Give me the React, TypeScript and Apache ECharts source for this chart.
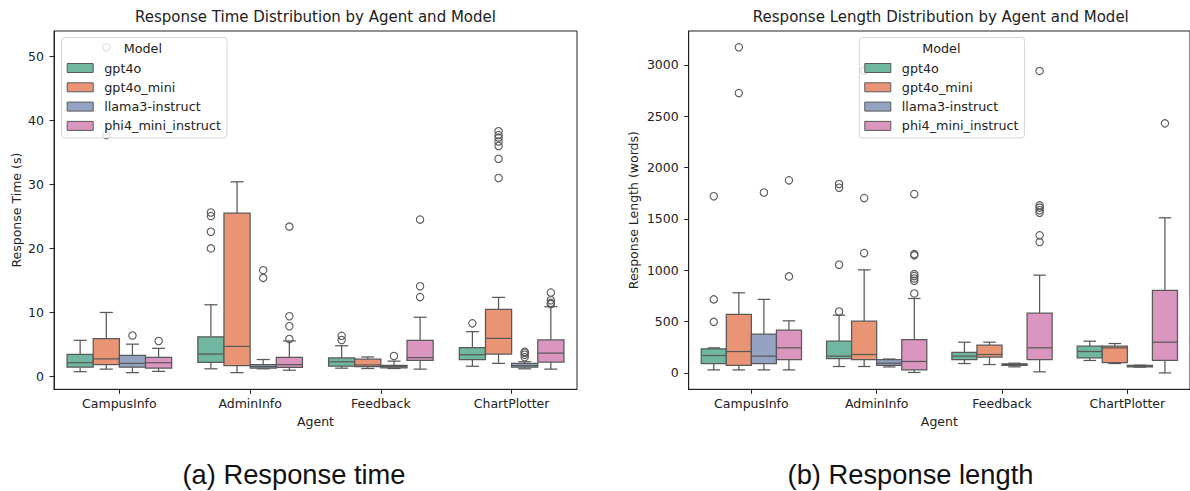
import React, { useEffect, useRef } from 'react';
import * as echarts from 'echarts';

const FONT = 'DejaVu Sans';

const agents = ['CampusInfo', 'AdminInfo', 'Feedback', 'ChartPlotter'];
const models = ['gpt4o', 'gpt4o_mini', 'llama3-instruct', 'phi4_mini_instruct'];
const modelColors = ['#71b6a1', '#e99575', '#95a3c3', '#db96c0'];

// Response time (s): [lower whisker, q1, median, q3, upper whisker] per agent
const timeGpt4o = [[0.75, 1.45, 2.15, 3.45, 5.65], [1.2, 2.2, 3.5, 6.2, 11.2], [1.3, 1.6, 2.3, 2.9, 4.8], [1.6, 2.65, 3.4, 4.5, 7.0]];
const timeGpt4oMini = [[1.15, 1.85, 2.75, 5.9, 10.0], [0.6, 1.7, 4.7, 25.5, 30.4], [1.25, 1.55, 1.8, 2.7, 3.05], [2.05, 3.5, 5.95, 10.5, 12.35]];
const timeLlama3 = [[0.6, 1.45, 2.05, 3.3, 5.05], [1.2, 1.3, 1.55, 1.85, 2.65], [1.25, 1.35, 1.55, 1.75, 2.4], [1.2, 1.45, 1.7, 2.05, 2.3]];
const timePhi4 = [[0.8, 1.3, 2.15, 3.0, 4.4], [0.98, 1.42, 1.85, 3.0, 5.55], [1.15, 2.5, 2.95, 5.65, 9.25], [1.15, 2.25, 3.65, 5.7, 10.9]];

const timeOutGpt4o = [[], [20.0, 22.6, 25.05, 25.6], [5.7, 6.35], [8.3]];
const timeOutGpt4oMini = [[37.7, 51.4], [], [], [31.0, 34.0, 36.0, 36.7, 37.3, 37.7, 38.3]];
const timeOutLlama3 = [[6.4], [15.4, 16.6], [3.2], [3.0, 3.4, 3.7, 3.85]];
const timeOutPhi4 = [[5.55], [5.85, 7.85, 9.4, 23.4], [12.4, 14.1, 24.5], [11.3, 11.5, 11.9, 13.1]];

// Response length (words)
const lenGpt4o = [[29, 91, 169, 234, 244], [62, 140, 163, 309, 562], [91, 130, 163, 199, 299], [121, 146, 208, 260, 309]];
const lenGpt4oMini = [[29, 72, 208, 569, 780], [62, 130, 179, 504, 1004], [81, 153, 179, 270, 299], [91, 101, 244, 260, 286]];
const lenLlama3 = [[29, 91, 163, 377, 716], [58, 73, 95, 128, 135], [59, 72, 81, 88, 94], [56, 59, 65, 72, 75]];
const lenPhi4 = [[29, 130, 244, 416, 507], [4, 30, 111, 325, 725], [10, 130, 244, 582, 952], [0, 121, 299, 803, 1511]];

const lenOutGpt4o = [[497, 716, 1721], [598, 1053, 1804, 1840], [], []];
const lenOutGpt4oMini = [[2726, 3172], [1167, 1703, 2945], [], []];
const lenOutLlama3 = [[1757], [], [], []];
const lenOutPhi4 = [[940, 1876], [774, 897, 920, 943, 962, 1145, 1157, 1742], [1275, 1340, 1560, 1585, 1610, 1632, 2942], [2431]];

const timeTicks = [0, 10, 20, 30, 40, 50];
const lenTicks = [0, 500, 1000, 1500, 2000, 2500, 3000];

const LINE = '#595959';
const TEXT = '#222222';

function boxRenderer(hue: number, outliers: number[][]) {
  return (params: any, api: any) => {
    const cat = api.value(0);
    const band = api.size([1, 0])[0];
    const w = 0.2 * band;
    const cx = api.coord([cat, 0])[0] + (hue - 1.5) * w;
    const y = (v: number) => api.coord([cat, v])[1];
    const lo = y(api.value(1));
    const q1 = y(api.value(2));
    const med = y(api.value(3));
    const q3 = y(api.value(4));
    const hi = y(api.value(5));
    const fill = api.visual('color');
    const ls = { stroke: LINE, lineWidth: 1.25, fill: null };
    const children: any[] = [
      { type: 'line', shape: { x1: cx, y1: q3, x2: cx, y2: hi }, style: ls },
      { type: 'line', shape: { x1: cx, y1: q1, x2: cx, y2: lo }, style: ls },
      { type: 'line', shape: { x1: cx - w / 4, y1: hi, x2: cx + w / 4, y2: hi }, style: ls },
      { type: 'line', shape: { x1: cx - w / 4, y1: lo, x2: cx + w / 4, y2: lo }, style: ls },
      { type: 'rect', shape: { x: cx - w / 2, y: q3, width: w, height: q1 - q3 }, style: { fill, stroke: LINE, lineWidth: 1.25 } },
      { type: 'line', shape: { x1: cx - w / 2, y1: med, x2: cx + w / 2, y2: med }, style: ls },
    ];
    (outliers[params.dataIndex] || []).forEach((v) => {
      children.push({ type: 'circle', shape: { cx, cy: y(v), r: 3.7 }, style: { fill: 'none', stroke: LINE, lineWidth: 1.1 } });
    });
    return { type: 'group', children };
  };
}

function makeSeries(stats: number[][][], outs: number[][][], axisIndex: number) {
  return stats.map((s, h) => ({
    type: 'custom',
    name: models[h],
    xAxisIndex: axisIndex,
    yAxisIndex: axisIndex,
    renderItem: boxRenderer(h, outs[h]),
    itemStyle: { color: modelColors[h] },
    encode: { x: 0, y: [1, 2, 3, 4, 5] },
    data: agents.map((_, i) => [i, ...s[i]]),
    z: 2,
  }));
}

function legendAt(left: number) {
  return {
    data: models,
    orient: 'vertical',
    left,
    top: 37.5,
    icon: 'rect',
    itemWidth: 26,
    itemHeight: 9,
    itemGap: 5.3,
    padding: [23.5, 6, 5, 5],
    backgroundColor: 'rgba(255,255,255,0.8)',
    borderColor: '#d4d4d4',
    borderWidth: 1,
    borderRadius: 3,
    selectedMode: false,
    itemStyle: { borderColor: LINE, borderWidth: 1 },
    textStyle: { fontFamily: FONT, fontSize: 12.75, color: TEXT, lineHeight: 14, padding: [0, 0, 0, 6] },
    z: 5,
  };
}

function xAxisAt(gridIndex: number) {
  return {
    type: 'category',
    gridIndex,
    data: agents,
    axisLine: { show: true, onZero: false, lineStyle: { color: TEXT, width: 1 } },
    axisTick: { show: true, alignWithLabel: true, length: 4.5, lineStyle: { color: TEXT } },
    axisLabel: { margin: 8, fontFamily: FONT, fontSize: 12.5, color: TEXT },
    splitLine: { show: false },
    name: 'Agent',
    nameLocation: 'middle',
    nameGap: 26,
    nameTextStyle: { fontFamily: FONT, fontSize: 12.5, color: TEXT },
  };
}

function yAxisAt(gridIndex: number, min: number, max: number, ticks: number[], name: string, nameGap: number) {
  return {
    type: 'value',
    gridIndex,
    min,
    max,
    axisLine: { show: true, onZero: false, lineStyle: { color: TEXT, width: 1 } },
    axisTick: { show: true, length: 4.5, customValues: ticks, lineStyle: { color: TEXT } },
    axisLabel: { margin: 10, customValues: ticks, formatter: (v: number) => String(v), fontFamily: FONT, fontSize: 12.5, color: TEXT },
    splitLine: { show: false },
    name,
    nameLocation: 'middle',
    nameGap,
    nameTextStyle: { fontFamily: FONT, fontSize: 12.5, color: TEXT },
  };
}

export default function App() {
  const ref = useRef<HTMLDivElement>(null);
  useEffect(() => {
    if (!ref.current) return;
    const chart = echarts.init(ref.current, undefined, { renderer: 'svg' });
    const option: any = {
      animation: false,
      backgroundColor: '#ffffff',
      grid: [
        { left: 54, top: 31, width: 523, height: 358.3, show: true, borderColor: TEXT, borderWidth: 1, backgroundColor: 'transparent' },
        { left: 688.7, top: 31, width: 504.3, height: 358.3, show: true, borderColor: TEXT, borderWidth: 1, backgroundColor: 'transparent' },
      ],
      xAxis: [xAxisAt(0), xAxisAt(1)],
      yAxis: [
        yAxisAt(0, -2.0, 53.95, timeTicks, 'Response Time (s)', 31.5),
        yAxisAt(1, -160, 3331, lenTicks, 'Response Length (words)', 49),
      ],
      legend: [legendAt(61.7), legendAt(859.3)],
      series: [
        ...makeSeries([timeGpt4o, timeGpt4oMini, timeLlama3, timePhi4], [timeOutGpt4o, timeOutGpt4oMini, timeOutLlama3, timeOutPhi4], 0),
        ...makeSeries([lenGpt4o, lenGpt4oMini, lenLlama3, lenPhi4], [lenOutGpt4o, lenOutGpt4oMini, lenOutLlama3, lenOutPhi4], 1),
      ],
      graphic: [
        { type: 'text', x: 315.5, y: 17, z: 10, style: { text: 'Response Time Distribution by Agent and Model', align: 'center', verticalAlign: 'middle', fontFamily: FONT, fontSize: 15, fill: TEXT } },
        { type: 'text', x: 940.8, y: 17, z: 10, style: { text: 'Response Length Distribution by Agent and Model', align: 'center', verticalAlign: 'middle', fontFamily: FONT, fontSize: 15, fill: TEXT } },
        { type: 'text', x: 142.8, y: 48.3, z: 10, style: { text: 'Model', align: 'center', verticalAlign: 'middle', fontFamily: FONT, fontSize: 12.75, fill: TEXT } },
        { type: 'text', x: 941.3, y: 48.3, z: 10, style: { text: 'Model', align: 'center', verticalAlign: 'middle', fontFamily: FONT, fontSize: 12.75, fill: TEXT } },
        { type: 'text', x: 294, y: 474, z: 10, style: { text: '(a) Response time', align: 'center', verticalAlign: 'middle', fontFamily: 'Liberation Sans', fontSize: 27.3, fill: '#111111' } },
        { type: 'text', x: 910.5, y: 474, z: 10, style: { text: '(b) Response length', align: 'center', verticalAlign: 'middle', fontFamily: 'Liberation Sans', fontSize: 27.3, fill: '#111111' } },
      ],
    };
    chart.setOption(option);
    return () => chart.dispose();
  }, []);
  return <div ref={ref} style={{ position: 'fixed', left: 0, top: 0, width: 1190, height: 491 }} />;
}
